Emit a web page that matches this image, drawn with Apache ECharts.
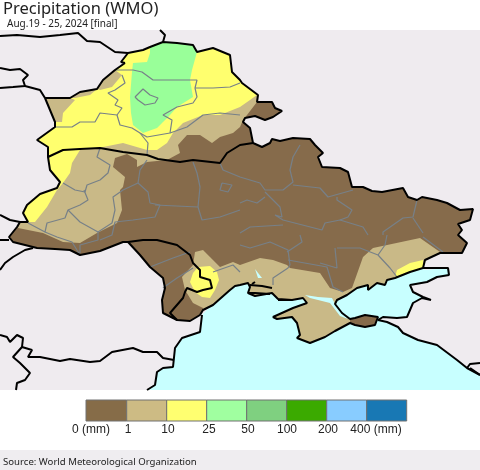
<!DOCTYPE html>
<html>

<head>
    <meta charset="utf-8">
    <title>Precipitation (WMO)</title>
    <script src="https://cdn.jsdelivr.net/npm/echarts@6/dist/echarts.min.js"></script>
    <style>
        html, body { margin: 0; padding: 0; background: #fff; }
        #main { width: 480px; height: 470px; }
    </style>
</head>

<body>
    <div id="main"></div>
    <script>
        var mapFrame = [[0, 30], [480, 30], [480, 390], [0, 390]];
        var footerBand = [[0, 450], [480, 450], [480, 470], [0, 470]];

        var northEdge = [[125, 63], [121, 62], [128, 53], [143, 50], [150, 47], [163, 42], [177, 43], [193, 45], [197, 52], [213, 48], [230, 55], [232, 72], [240, 80], [242, 83], [258, 95]];
        var eastEdge = [[257, 102], [272, 102], [275, 108], [282, 111], [273, 117], [265, 120], [255, 116], [245, 118], [243, 122], [250, 128], [253, 143], [262, 147], [270, 143], [272, 139], [280, 141], [293, 138], [310, 139], [315, 145], [323, 153], [318, 157], [322, 167], [340, 168], [348, 172], [352, 187], [363, 187], [372, 191], [382, 192], [403, 188], [408, 197], [417, 200], [422, 197], [437, 200], [447, 203], [460, 210], [473, 209], [470, 220], [458, 224], [462, 230], [458, 235], [467, 243], [462, 253]];
        var coastEdge = [[440, 253], [425, 260], [423, 268], [410, 272], [395, 278], [387, 280], [385, 285], [377, 283], [368, 290], [368, 285], [357, 288], [347, 295], [337, 300], [335, 304], [342, 313], [350, 319], [355, 318], [365, 315], [378, 317], [375, 325], [365, 327], [355, 325], [350, 323], [335, 331], [325, 337], [310, 343], [297, 338], [300, 335], [297, 323], [292, 317], [277, 319], [273, 317], [293, 308], [307, 303], [303, 298], [292, 300], [278, 299], [272, 293], [255, 296], [248, 293], [250, 287], [248, 283], [240, 285], [235, 286], [230, 290], [213, 305], [203, 310]];
        var moldovaEdge = [[200, 315], [190, 321], [177, 320], [163, 313], [162, 300], [165, 288], [163, 278], [150, 267], [140, 255], [128, 242], [123, 242], [100, 251], [80, 255], [70, 250], [55, 249], [37, 248], [13, 242], [9, 237], [17, 227], [20, 222]];
        var carpathianEdge = [[28, 222], [23, 213], [27, 205], [40, 194], [57, 188], [60, 182], [50, 170], [48, 157], [48, 147], [37, 140], [55, 127], [55, 122], [45, 98], [70, 98], [80, 92], [97, 89], [103, 80], [115, 70]];

        var tanNorthLimit = [[257, 102], [247, 115], [243, 120], [240, 127], [233, 133], [220, 137], [212, 143], [200, 135], [187, 135], [178, 145], [180, 153], [167, 160], [147, 162], [137, 167], [137, 160], [127, 154], [115, 158], [113, 167], [125, 177], [123, 187], [120, 190], [122, 210], [117, 223], [97, 233], [80, 243], [63, 242], [43, 233], [18, 228], [20, 222]];
        var yellowNorthLimit = [[257, 95], [250, 100], [240, 107], [220, 115], [203, 115], [183, 123], [173, 133], [167, 143], [157, 150], [147, 150], [123, 143], [103, 147], [80, 150], [72, 163], [70, 173], [63, 183], [57, 190], [47, 207], [35, 222], [28, 222]];
        var tanWestPatch = [[45, 98], [70, 98], [75, 100], [63, 113], [62, 122], [55, 122]];
        var tanBrestPatch = [[115, 70], [122, 75], [112, 87], [100, 90], [97, 89], [103, 80]];
        var tanStripPatch = [[80, 92], [97, 89], [90, 95], [75, 98], [70, 98]];
        var greenPatch = [[133, 63], [147, 62], [150, 53], [150, 47], [163, 42], [177, 43], [193, 45], [197, 52], [192, 70], [190, 80], [193, 97], [177, 107], [170, 115], [163, 122], [157, 128], [143, 133], [133, 125], [131, 113], [130, 97], [132, 72]];
        var tanSouthTop = [[195, 252], [203, 250], [210, 257], [220, 267], [233, 262], [240, 265], [260, 258], [273, 260], [287, 265], [290, 268], [320, 273], [330, 288], [343, 292], [352, 288], [363, 257], [373, 248], [420, 238], [440, 252], [462, 253]];
        var tanSouthWest = [[203, 308], [193, 303], [185, 290], [182, 277], [193, 265]];
        var yellowOdesa = [[198, 267], [210, 266], [217, 272], [219, 280], [215, 290], [210, 298], [202, 297], [195, 292], [190, 282], [193, 273]];
        var yellowAzov = [[395, 277], [397, 270], [410, 263], [423, 260], [423, 268], [410, 272]];
        var brownKerch = [[350, 319], [355, 318], [365, 315], [378, 317], [375, 325], [365, 327], [355, 325], [350, 323]];
        var syvash = [[305, 295], [318, 297], [332, 298], [335, 304], [348, 319], [340, 316], [330, 303], [318, 300], [310, 298]];
        var dnieperMouth = [[255, 269], [262, 278], [258, 278]];

        var seaWest = [[147, 390], [155, 385], [157, 372], [163, 368], [173, 367], [175, 348], [182, 338], [200, 332], [202, 315]];
        var seaInland = [[240, 275], [390, 270]];
        var seaEast = [[423, 268], [425, 270], [448, 268], [449, 275], [437, 277], [427, 282], [410, 285], [413, 292], [423, 297], [431, 300], [422, 298], [413, 303], [407, 317], [397, 318], [383, 317], [378, 320], [387, 322], [398, 327], [403, 333], [418, 340], [437, 345], [457, 360], [467, 368], [480, 375]];
        var seaCorner = [[480, 390]];

        var belarusBorder = [[48, 157], [63, 150], [80, 149], [100, 148], [123, 152], [147, 155], [158, 159], [180, 162], [193, 160], [220, 163], [227, 153], [240, 145], [253, 143]];
        var moldovaBorder = [[128, 242], [143, 240], [157, 240], [177, 245], [190, 255], [193, 263], [200, 270], [200, 277], [210, 280], [212, 288], [203, 290], [197, 292], [187, 288], [185, 292], [183, 298], [170, 313], [177, 320]];
        var otherBorders = [
            [[0, 36], [17, 35], [40, 37], [60, 35], [78, 33], [87, 41], [100, 42], [115, 52], [128, 53]],
            [[160, 30], [165, 35], [163, 42]],
            [[0, 68], [10, 70], [20, 69], [28, 75], [23, 80], [25, 86], [13, 87], [0, 88]],
            [[25, 86], [40, 90], [45, 98]],
            [[0, 215], [10, 220], [20, 222]],
            [[0, 240], [9, 240]],
            [[33, 248], [25, 250], [13, 257], [5, 263], [0, 270]],
            [[0, 335], [7, 337], [10, 342], [17, 335], [23, 338], [22, 347], [32, 350], [28, 357], [40, 357], [60, 361], [70, 359], [90, 362], [100, 361], [112, 352], [133, 348], [143, 352], [157, 352], [163, 358], [174, 360]],
            [[22, 347], [13, 357], [20, 363], [30, 373], [25, 380], [17, 383], [16, 390]],
            [[467, 368], [470, 364], [480, 363]],
            [[470, 368], [480, 375]],
            [[250, 285], [262, 286], [272, 288]],
            [[248, 293], [255, 293], [270, 294]],
            [[252, 284], [255, 282]],
            [[278, 300], [292, 300]]
        ];
        var adminLines = [
            [[115, 70], [133, 70], [142, 72], [153, 80], [170, 80], [197, 80], [195, 88], [213, 88], [230, 87], [240, 83]],
            [[122, 75], [125, 83], [115, 90], [108, 93], [118, 100], [115, 105], [122, 108], [117, 115], [100, 113], [95, 122], [80, 122], [72, 127], [55, 127]],
            [[117, 115], [120, 125], [132, 128], [140, 133], [147, 137], [170, 133], [172, 120], [163, 115], [177, 107], [193, 103], [197, 97], [195, 88]],
            [[170, 133], [187, 127], [203, 115], [220, 113], [240, 115]],
            [[140, 133], [148, 143], [147, 155]],
            [[135, 97], [143, 89], [150, 95], [158, 98], [155, 103], [145, 105], [138, 100], [135, 97]],
            [[100, 148], [97, 157], [110, 165], [108, 173], [100, 180], [87, 185], [85, 192], [75, 190], [63, 183]],
            [[84, 190], [88, 200], [80, 205], [68, 210], [65, 218], [47, 223], [45, 232], [28, 223]],
            [[45, 232], [57, 237], [72, 242], [80, 255]],
            [[68, 210], [80, 222], [98, 232], [98, 240], [80, 245], [80, 253]],
            [[147, 160], [140, 170], [138, 183], [123, 190], [113, 197], [115, 210], [112, 223], [98, 232]],
            [[138, 183], [148, 192], [150, 203], [160, 205], [155, 217], [133, 220], [115, 222], [112, 235], [100, 240]],
            [[193, 162], [197, 173], [200, 187], [198, 207], [155, 205]],
            [[220, 163], [223, 170], [240, 177], [260, 183], [265, 190], [283, 190], [293, 182], [290, 170], [293, 157], [300, 145]],
            [[293, 185], [320, 188], [328, 197], [353, 190]],
            [[265, 192], [280, 207], [282, 217], [275, 215], [283, 220], [322, 230], [325, 223], [340, 220], [363, 227], [368, 235]],
            [[337, 197], [337, 200], [352, 210], [348, 217], [340, 220]],
            [[417, 200], [413, 217], [403, 218], [383, 232], [383, 235]],
            [[413, 218], [423, 233]],
            [[240, 203], [247, 200], [257, 203], [265, 197]],
            [[240, 233], [250, 227], [283, 225]],
            [[198, 207], [202, 220], [220, 217], [240, 210]],
            [[222, 183], [232, 185], [228, 192], [220, 190], [222, 183]],
            [[193, 268], [177, 278], [167, 285], [163, 288]],
            [[150, 267], [173, 258], [190, 252]],
            [[213, 272], [233, 265], [240, 272]],
            [[240, 245], [250, 248], [270, 242], [288, 250], [290, 265], [288, 268], [273, 278], [273, 285]],
            [[288, 260], [327, 267], [333, 287], [343, 292]],
            [[337, 248], [360, 248], [378, 255], [390, 268], [397, 277]],
            [[335, 248], [337, 268], [320, 263]],
            [[378, 255], [385, 245], [387, 235]],
            [[423, 237], [443, 252]],
            [[300, 235], [302, 242], [287, 252]]
        ];

        var legendEdges = [86, 126.7, 166.7, 206.7, 246.7, 286.7, 326.7, 366.7, 406.7];
        var legendColors = ['#866C48', '#CDBB84', '#FFFF70', '#A0FFA0', '#7FD080', '#3BAA00', '#88CCFF', '#1878B4'];
        var tickLabels = ['0 (mm)', '1', '10', '25', '50', '100', '200', '400 (mm)'];
        var tickX = [91, 128, 168, 209, 248, 287, 328, 376];

        var BROWN = '#866B4B', TAN = '#C9B987', YELLOW = '#FFFF6E', GREEN = '#99FF99', SEA = '#C8FFFF', LAND = '#EFEBEF';

        var fills = [
            [mapFrame, LAND],
            [footerBand, '#EFEDF0'],
            [seaWest.concat(seaInland, seaEast, seaCorner), SEA],
            [northEdge.concat(eastEdge, coastEdge, moldovaEdge, carpathianEdge), BROWN],
            [carpathianEdge.concat(northEdge, tanNorthLimit), TAN],
            [carpathianEdge.concat(northEdge, yellowNorthLimit), YELLOW],
            [tanWestPatch, TAN],
            [tanBrestPatch, TAN],
            [tanStripPatch, TAN],
            [greenPatch, GREEN],
            [tanSouthTop.concat(coastEdge, tanSouthWest), TAN],
            [yellowOdesa, YELLOW],
            [yellowAzov, YELLOW],
            [brownKerch, BROWN],
            [syvash, SEA],
            [dnieperMouth, SEA]
        ];

        var series = [];

        fills.forEach(function (f) {
            series.push({
                type: 'custom',
                silent: true,
                animation: false,
                clip: false,
                data: [0],
                renderItem: function (params, api) {
                    return {
                        type: 'polygon',
                        shape: { points: f[0].map(function (p) { return api.coord(p); }) },
                        style: { fill: f[1] }
                    };
                }
            });
        });

        function addLine(points, color, width) {
            series.push({
                type: 'line',
                silent: true,
                animation: false,
                showSymbol: false,
                symbol: 'none',
                lineStyle: { color: color, width: width },
                data: points
            });
        }

        adminLines.forEach(function (l) { addLine(l, '#778088', 1.2); });

        // outer outline and the black borders on top
        addLine(northEdge.concat(eastEdge, coastEdge, moldovaEdge, carpathianEdge, [northEdge[0]]), '#000', 2);
        addLine(seaWest, '#000', 2);
        addLine(seaEast, '#000', 2);
        addLine(belarusBorder, '#000', 2);
        addLine(moldovaBorder, '#000', 2);
        otherBorders.forEach(function (l) { addLine(l, '#000', 2); });

        // colour key
        series.push({
            type: 'custom',
            silent: true,
            animation: false,
            data: legendColors.map(function (c, i) { return i; }),
            renderItem: function (params, api) {
                var i = params.dataIndex;
                var a = api.coord([legendEdges[i], 400]);
                var b = api.coord([legendEdges[i + 1], 421]);
                return {
                    type: 'rect',
                    shape: { x: a[0], y: a[1], width: b[0] - a[0], height: b[1] - a[1] },
                    style: { fill: legendColors[i], stroke: '#707070', lineWidth: 1 }
                };
            }
        });
        series.push({
            type: 'custom',
            silent: true,
            animation: false,
            data: tickLabels.map(function (c, i) { return i; }),
            renderItem: function (params, api) {
                var i = params.dataIndex;
                var p = api.coord([tickX[i], 430]);
                return {
                    type: 'text',
                    style: {
                        x: p[0],
                        y: p[1],
                        text: tickLabels[i],
                        fill: '#222',
                        font: '12px "Liberation Sans", Arial, sans-serif',
                        align: 'center',
                        verticalAlign: 'middle'
                    }
                };
            }
        });

        var myChart = echarts.init(document.getElementById('main'));
        myChart.setOption({
            animation: false,
            backgroundColor: '#fff',
            title: [
                {
                    text: 'Precipitation (WMO)', left: 3, top: -1, padding: 0,
                    textStyle: { fontFamily: 'Noto Sans', fontSize: 16.5, fontWeight: 'normal', color: '#222', lineHeight: 20 }
                },
                {
                    text: 'Aug.19 - 25, 2024 [final]', left: 7, top: 18, padding: 0,
                    textStyle: { fontFamily: 'Noto Sans', fontSize: 10, fontWeight: 'normal', color: '#222', lineHeight: 12 }
                },
                {
                    text: 'Source: World Meteorological Organization', left: 3, top: 456, padding: 0,
                    textStyle: { fontFamily: 'Noto Sans', fontSize: 9.6, fontWeight: 'normal', color: '#222', lineHeight: 12 }
                }
            ],
            grid: { left: 0, right: 0, top: 0, bottom: 0 },
            xAxis: { type: 'value', min: 0, max: 480, show: false },
            yAxis: { type: 'value', min: 0, max: 470, inverse: true, show: false },
            series: series
        });
    </script>
</body>

</html>
